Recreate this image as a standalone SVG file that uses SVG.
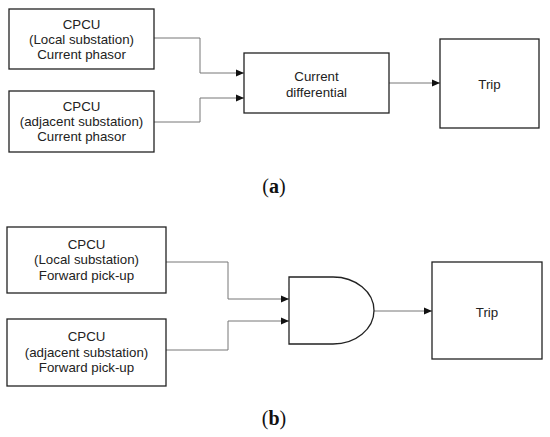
<svg xmlns="http://www.w3.org/2000/svg" width="550" height="437" viewBox="0 0 550 437">
<style>
.box{fill:#fff;stroke:#222;stroke-width:1.3}
.t{font-family:"Liberation Sans",Arial,sans-serif;font-size:13.3px;fill:#222;text-anchor:middle;dominant-baseline:central}
.c{fill:none;stroke:#777;stroke-width:1}
.cap{font-family:"Liberation Serif",serif;font-size:20px;fill:#111;text-anchor:middle}
</style>
<defs>
<marker id="ah" viewBox="0 0 8 8" refX="8" refY="4" markerWidth="8" markerHeight="8" markerUnits="userSpaceOnUse" orient="auto">
<path d="M0,0.5 L8,4 L0,7.5 Z" fill="#111"/>
</marker>
</defs>
<rect width="550" height="437" fill="#fff"/>
<g id="connectors">
<polyline class="c" points="154,38 200,38 200,73 244,73" marker-end="url(#ah)"/>
<polyline class="c" points="154,122 200,122 200,98 244,98" marker-end="url(#ah)"/>
<line class="c" x1="389" y1="83" x2="440" y2="83" marker-end="url(#ah)"/>
<polyline class="c" points="166,262 228,262 228,299 289,299" marker-end="url(#ah)"/>
<polyline class="c" points="166,350 228,350 228,321 289,321" marker-end="url(#ah)"/>
<line class="c" x1="374" y1="311" x2="432" y2="311" marker-end="url(#ah)"/>
</g>
<g id="a-local">
<rect class="box" x="9" y="9" width="145" height="60"/>
<text class="t" x="81.5" y="24">CPCU</text>
<text class="t" x="81.5" y="39">(Local substation)</text>
<text class="t" x="81.5" y="54">Current phasor</text>
</g>
<g id="a-adjacent">
<rect class="box" x="9" y="91" width="145" height="61"/>
<text class="t" x="81.5" y="106">CPCU</text>
<text class="t" x="81.5" y="121">(adjacent substation)</text>
<text class="t" x="81.5" y="136">Current phasor</text>
</g>
<g id="a-diff">
<rect class="box" x="244" y="53" width="145" height="60"/>
<text class="t" x="316.5" y="76">Current</text>
<text class="t" x="316.5" y="92">differential</text>
</g>
<g id="a-trip">
<rect class="box" x="440" y="39" width="99" height="89"/>
<text class="t" x="489.5" y="84">Trip</text>
</g>
<g id="b-local">
<rect class="box" x="7" y="227" width="159" height="66"/>
<text class="t" x="86.5" y="244">CPCU</text>
<text class="t" x="86.5" y="259">(Local substation)</text>
<text class="t" x="86.5" y="275">Forward pick-up</text>
</g>
<g id="b-adjacent">
<rect class="box" x="7" y="319" width="159" height="67"/>
<text class="t" x="86.5" y="336">CPCU</text>
<text class="t" x="86.5" y="352">(adjacent substation)</text>
<text class="t" x="86.5" y="367">Forward pick-up</text>
</g>
<g id="b-and">
<path class="box" d="M289,277 L333,277 A41,33.5 0 0 1 333,344 L289,344 Z"/>
</g>
<g id="b-trip">
<rect class="box" x="432" y="262" width="110" height="97"/>
<text class="t" x="487" y="312">Trip</text>
</g>
<text class="cap" x="274" y="193">(<tspan font-weight="bold">a</tspan>)</text>
<text class="cap" x="274" y="425">(<tspan font-weight="bold">b</tspan>)</text>
</svg>
